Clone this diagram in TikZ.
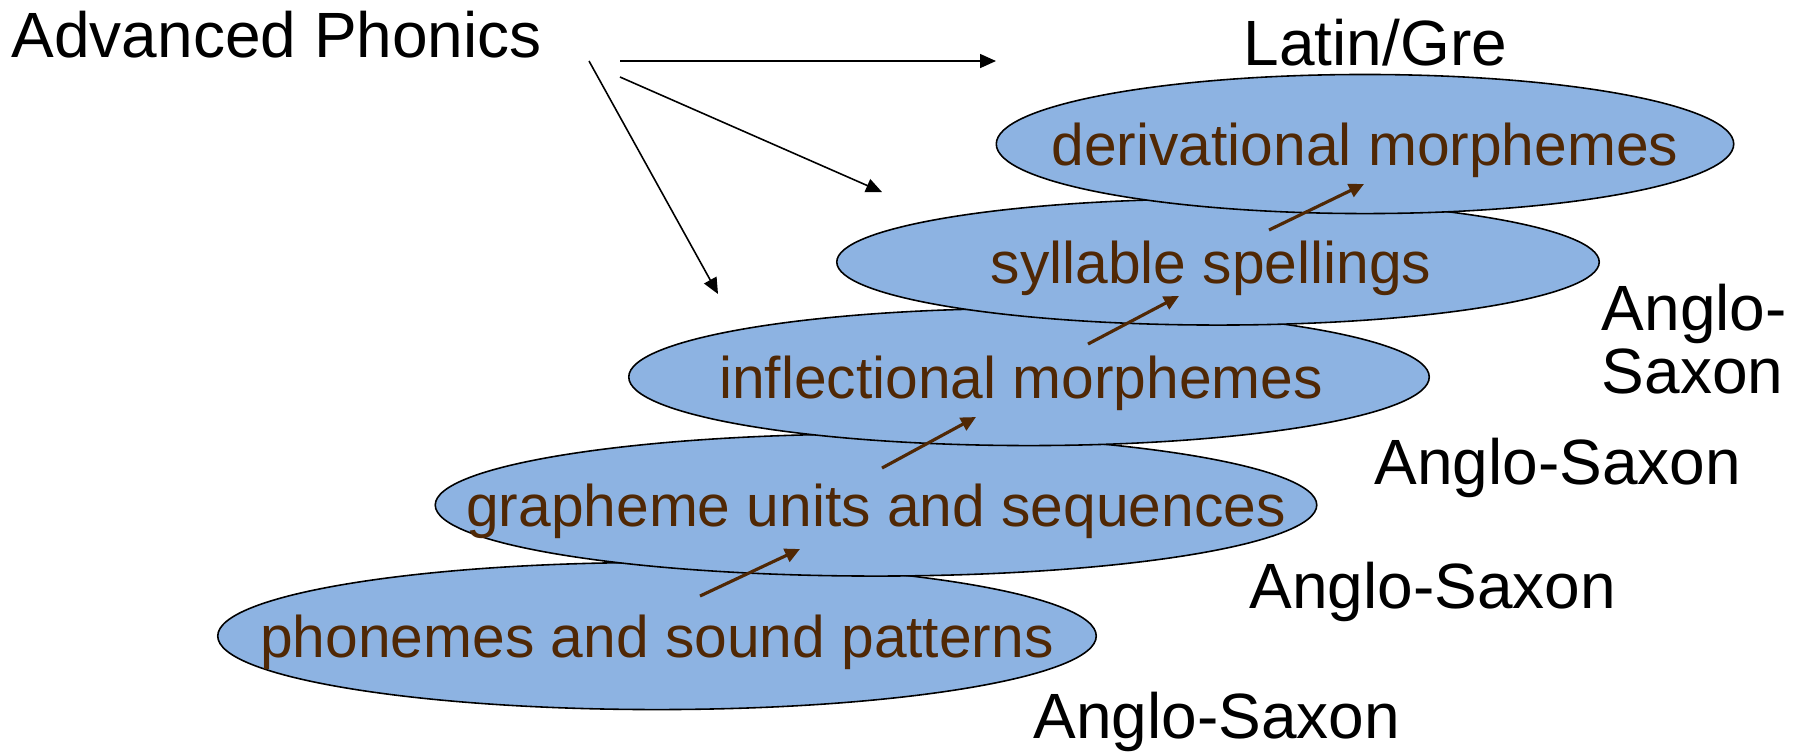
\documentclass[tikz,border=0pt]{standalone}
\usepackage{fontspec}
\setmainfont{Liberation Sans}
\usetikzlibrary{shapes.geometric,arrows.meta}
\definecolor{layerblue}{RGB}{141,179,226}
\definecolor{layerbrown}{RGB}{80,40,5}

\begin{document}
\begin{tikzpicture}[
    x=0.01cm, y=-0.01cm,
    layer/.style={ellipse, draw, fill=layerblue, line width=0.45pt, inner sep=0pt},
    layertext/.style={text=layerbrown, font=\fontsize{16.7}{20}\selectfont, inner sep=0pt, yshift=-0.06cm},
    origin/.style={font=\fontsize{18.2}{17.9}\selectfont, inner sep=0pt, anchor=base west, align=left},
    pointer/.style={-{Triangle[length=0.16cm, width=0.14cm]}, line width=0.45pt},
    climb/.style={-{Triangle[length=0.15cm, width=0.14cm]}, line width=0.9pt, draw=layerbrown, fill=layerbrown}
]
\useasboundingbox (0,0) rectangle (1800,753);

% Layers, bottom one first
\node[layer, minimum width=8.78cm, minimum height=1.47cm,
    label={[layertext]center:phonemes and sound patterns}] (phon) at (657,636) {};
\node[layer, minimum width=8.81cm, minimum height=1.42cm,
    label={[layertext]center:grapheme units and sequences}] (graph) at (876,505) {};
\node[layer, minimum width=8.00cm, minimum height=1.37cm,
    label={[layertext, xshift=-0.08cm]center:inflectional morphemes}] (infl) at (1029,377) {};
\node[layer, minimum width=7.62cm, minimum height=1.26cm,
    label={[layertext, xshift=-0.07cm]center:syllable spellings}] (syll) at (1218,262) {};
\node[layer, minimum width=7.37cm, minimum height=1.39cm,
    label={[layertext]center:derivational morphemes}] (deriv) at (1365,144) {};

% Origins
\node[origin] (adv) at (11,57) {Advanced Phonics};
\node[origin] (latin) at (1243,65) {Latin/Gre};
\node[origin] (as4) at (1601,393) {Anglo-\\Saxon};
\node[origin] (as3) at (1374,484) {Anglo-Saxon};
\node[origin] (as2) at (1249,608) {Anglo-Saxon};
\node[origin] (as1) at (1033,738) {Anglo-Saxon};

% Black pointers
\coordinate (p1s) at (620,61);  \coordinate (p1e) at (996,61);
\coordinate (p2s) at (620,77);  \coordinate (p2e) at (882,192);
\coordinate (p3s) at (589,61);  \coordinate (p3e) at (718,294);
\draw[pointer] (p1s) -- (p1e);
\draw[pointer] (p2s) -- (p2e);
\draw[pointer] (p3s) -- (p3e);

% Brown steps between layers
\coordinate (c1s) at (700,596);  \coordinate (c1e) at (800,549);
\coordinate (c2s) at (882,468);  \coordinate (c2e) at (976,417);
\coordinate (c3s) at (1088,344); \coordinate (c3e) at (1179,296);
\coordinate (c4s) at (1269,230); \coordinate (c4e) at (1364,184);
\draw[climb] (c1s) -- (c1e);
\draw[climb] (c2s) -- (c2e);
\draw[climb] (c3s) -- (c3e);
\draw[climb] (c4s) -- (c4e);
\end{tikzpicture}
\end{document}
